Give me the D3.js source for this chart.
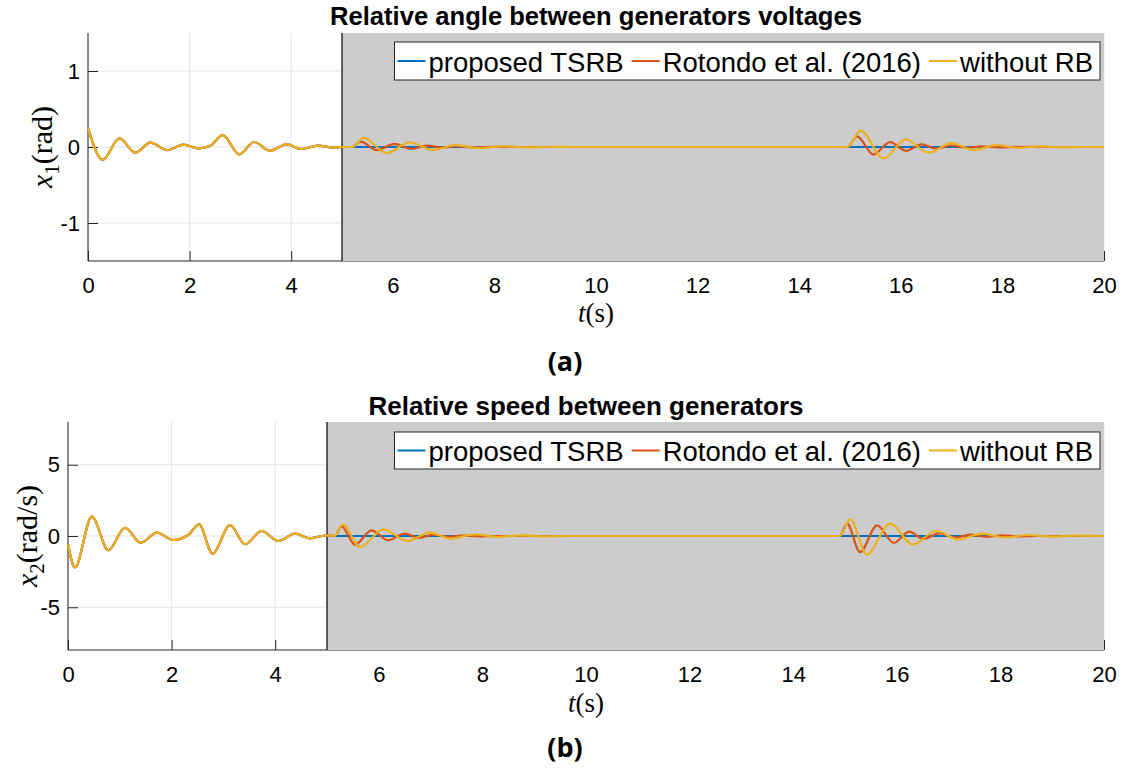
<!DOCTYPE html>
<html>
<head>
<meta charset="utf-8">
<script src="https://cdn.jsdelivr.net/npm/d3@7"></script>
<style>
  body { margin: 0; background: #fff; }
  svg { display: block; }
  text { font-family: "Liberation Sans", Arial, sans-serif; fill: #000; }
</style>
</head>
<body>
<div id="chart"></div>
<script>
// ---- data: [t (s), value] ----
var seriesNames = ["proposed TSRB", "Rotondo et al. (2016)", "without RB"];
var seriesColors = ["#0072BD", "#D95319", "#EDB120"];
var xTicks = [0, 2, 4, 6, 8, 10, 12, 14, 16, 18, 20];
var shadeStart = 5, shadeEnd = 20;

// x1, relative angle (rad): 0..5 s all three coincide
var x1Common = [[0, 0.25], [0.29, -0.17], [0.62, 0.115], [0.925, -0.075], [1.23, 0.057], [1.56, -0.04],
  [1.88, 0.03], [2.17, -0.017], [2.4, 0.013], [2.65, 0.155], [2.98, -0.097], [3.27, 0.066], [3.58, -0.049],
  [3.91, 0.035], [4.2, -0.026], [4.53, 0.018], [4.83, -0.009], [5.0, 0]];
var x1Proposed = [[5.05, 0], [20, 0]];
var x1Rotondo = [[5.2, 0], [5.37, 0.07], [5.68, -0.04], [6.04, 0.04], [6.37, -0.025], [6.68, 0.018], [6.97, -0.01],
  [7.25, 0.01], [7.6, -0.005], [8.0, 0.003], [8.5, 0], [14.95, 0], [15.14, 0.14], [15.46, -0.1], [15.79, 0.065],
  [16.1, -0.05], [16.41, 0.035], [16.7, -0.02], [17.0, 0.02], [17.3, -0.01], [17.6, 0.008], [17.95, -0.005],
  [18.3, 0.003], [18.7, 0], [20, 0]];
var x1NoRB = [[5.2, 0], [5.43, 0.12], [5.88, -0.08], [6.33, 0.06], [6.8, -0.04], [7.22, 0.025], [7.72, -0.015],
  [8.18, 0.01], [8.65, -0.006], [9.1, 0.003], [9.6, 0], [14.95, 0], [15.21, 0.216], [15.66, -0.15], [16.1, 0.1],
  [16.54, -0.075], [17.0, 0.05], [17.43, -0.04], [17.89, 0.024], [18.3, -0.012], [18.75, 0.007], [19.2, -0.004],
  [19.6, 0], [20, 0]];
var x1YTicks = [-1, 0, 1];

// x2, relative speed (rad/s)
var x2Common = [[0, -0.58], [0.135, -2.2], [0.46, 1.36], [0.78, -1.0], [1.1, 0.58], [1.4, -0.47], [1.72, 0.23],
  [2.03, -0.28], [2.32, 0.07], [2.53, 0.82], [2.79, -1.24], [3.13, 0.77], [3.42, -0.58], [3.74, 0.35],
  [4.06, -0.35], [4.38, 0.16], [4.67, -0.16], [5.0, 0.05]];
var x2Proposed = [[5.1, 0], [20, 0]];
var x2Rotondo = [[5.15, 0], [5.28, 0.68], [5.54, -0.61], [5.86, 0.4], [6.18, -0.3], [6.5, 0.17], [6.78, -0.14],
  [7.06, 0.1], [7.35, -0.06], [7.65, 0.04], [7.95, -0.02], [8.3, 0], [14.9, 0], [15.04, 0.87], [15.29, -1.13],
  [15.62, 0.75], [15.94, -0.47], [16.24, 0.31], [16.52, -0.21], [16.83, 0.2], [17.12, -0.12], [17.42, 0.1],
  [17.72, -0.06], [18.02, 0.04], [18.35, -0.02], [18.7, 0], [20, 0]];
var x2NoRB = [[5.15, 0], [5.3, 0.82], [5.64, -0.77], [6.09, 0.47], [6.55, -0.35], [6.99, 0.24], [7.38, -0.18],
  [7.86, 0.12], [8.3, -0.07], [8.75, 0.04], [9.2, -0.02], [9.7, 0], [14.9, 0], [15.1, 1.18], [15.42, -1.29],
  [15.87, 0.87], [16.31, -0.6], [16.76, 0.35], [17.19, -0.25], [17.64, 0.17], [18.08, -0.1], [18.53, 0.07],
  [19.0, -0.04], [19.45, 0.02], [20, 0]];
var x2YTicks = [-5, 0, 5];

var svg = d3.select("#chart").append("svg")
  .attr("width", 1128)
  .attr("height", 774);

function panel(o) {
  var g = svg.append("g");
  var x = d3.scaleLinear().domain([0, 20]).range([o.left, o.right]);
  var y = d3.scaleLinear().domain(o.yDomain).range([o.bottom, o.top]);

  // grid
  g.selectAll(".gx").data(xTicks).enter().append("line")
    .attr("x1", d => x(d)).attr("x2", d => x(d))
    .attr("y1", o.top).attr("y2", o.bottom)
    .attr("stroke", "#e3e3e3").attr("stroke-width", 1);
  g.selectAll(".gy").data(o.yTicks).enter().append("line")
    .attr("x1", o.left).attr("x2", o.right)
    .attr("y1", d => y(d)).attr("y2", d => y(d))
    .attr("stroke", "#e3e3e3").attr("stroke-width", 1);

  // axes (ticks inward, below the shading like MATLAB's bottom layer)
  var xAxis = d3.axisBottom(x).tickValues(xTicks).tickSize(-10).tickPadding(16).tickFormat(d3.format("d"));
  var yAxis = d3.axisLeft(y).tickValues(o.yTicks).tickSize(-10).tickPadding(8).tickFormat(d => d < 0 ? "-" + (-d) : d);
  var gx = g.append("g").attr("transform", "translate(0," + o.bottom + ")").call(xAxis);
  var gy = g.append("g").attr("transform", "translate(" + o.left + ",0)").call(yAxis);
  [gx, gy].forEach(function (a) {
    a.select(".domain").attr("stroke", "#262626");
    a.selectAll(".tick line").attr("stroke", "#262626");
    a.selectAll(".tick text").style("font-size", "22px").attr("fill", "#262626")
      .style("font-family", '"Liberation Sans", Arial, sans-serif');
  });
  gx.select(".domain").attr("d", "M" + o.left + ",0H" + o.right);
  gy.select(".domain").attr("d", "M0," + o.top + "V" + o.bottom);

  // shaded region
  g.append("rect")
    .attr("x", x(shadeStart)).attr("y", o.top)
    .attr("width", x(shadeEnd) - x(shadeStart)).attr("height", o.bottom - o.top)
    .attr("fill", "#cccccc");
  g.append("line")
    .attr("x1", x(shadeStart)).attr("x2", x(shadeStart))
    .attr("y1", o.top).attr("y2", o.bottom)
    .attr("stroke", "#000").attr("stroke-width", 1.2);

  // curves
  var line = d3.line().x(d => x(d[0])).y(d => y(d[1])).curve(d3.curveMonotoneX);
  o.series.forEach(function (s, i) {
    g.append("path")
      .attr("d", line(s))
      .attr("fill", "none")
      .attr("stroke", seriesColors[i])
      .attr("stroke-width", 2.2);
  });

  // legend
  var lg = g.append("g");
  var box = lg.append("rect").attr("fill", "#fff").attr("stroke", "#262626").attr("stroke-width", 1);
  var cx = 0, cy = (o.legendTop + o.legendBottom) / 2 + 1;
  var items = lg.append("g");
  seriesNames.forEach(function (name, i) {
    items.append("line")
      .attr("x1", cx + 3).attr("x2", cx + 31)
      .attr("y1", cy - 1).attr("y2", cy - 1)
      .attr("stroke", seriesColors[i]).attr("stroke-width", 2);
    var t = items.append("text")
      .attr("x", cx + 34).attr("y", cy)
      .attr("dominant-baseline", "central")
      .style("font-size", "27.5px")
      .text(name);
    cx += 34 + t.node().getComputedTextLength() + 5;
  });
  var bw = cx + 2;
  var bx = o.legendRight - bw;
  items.attr("transform", "translate(" + bx + ",0)");
  box.attr("x", bx).attr("y", o.legendTop).attr("width", bw).attr("height", o.legendBottom - o.legendTop);

  // title
  g.append("text")
    .attr("x", (o.left + o.right) / 2).attr("y", o.titleY)
    .attr("text-anchor", "middle")
    .style("font-size", o.titleSize).style("font-weight", "bold")
    .text(o.title);

  // y label
  var yl = g.append("text")
    .attr("transform", "translate(" + o.ylabelX + "," + y(0) + ") rotate(-90)")
    .attr("text-anchor", "middle")
    .style("font-family", '"Liberation Serif", "DejaVu Serif", serif')
    .style("font-size", "30px");
  yl.append("tspan").style("font-style", "italic").text("x");
  yl.append("tspan").attr("dy", 7).style("font-size", "21px").text(o.sub);
  yl.append("tspan").attr("dy", -7).text(o.unit);

  // x label
  var xl = g.append("text")
    .attr("x", (o.left + o.right) / 2).attr("y", o.xlabelY)
    .attr("text-anchor", "middle")
    .style("font-family", '"Liberation Serif", "DejaVu Serif", serif')
    .style("font-size", "27px");
  xl.append("tspan").style("font-style", "italic").text("t");
  xl.append("tspan").text("(s)");

  // caption
  g.append("text")
    .attr("x", 565).attr("y", o.captionY)
    .attr("text-anchor", "middle")
    .style("font-family", '"Open Sans", "DejaVu Sans", sans-serif')
    .style("font-weight", "bold")
    .style("font-size", "27px")
    .text(o.caption);
}

panel({
  left: 88, right: 1104, top: 33, bottom: 261,
  yDomain: [-1.5, 1.5], yTicks: x1YTicks,
  series: [x1Common.concat(x1Proposed), x1Common.concat(x1Rotondo), x1Common.concat(x1NoRB)],
  legendTop: 42, legendBottom: 80, legendRight: 1100,
  title: "Relative angle between generators voltages", titleY: 25, titleSize: "25.6px",
  sub: "1", unit: "(rad)", ylabelX: 52,
  xlabelY: 322, captionY: 371, caption: "(a)"
});

panel({
  left: 68, right: 1104, top: 422, bottom: 650,
  yDomain: [-8, 8], yTicks: x2YTicks,
  series: [x2Common.concat(x2Proposed), x2Common.concat(x2Rotondo), x2Common.concat(x2NoRB)],
  legendTop: 432, legendBottom: 469, legendRight: 1100,
  title: "Relative speed between generators", titleY: 415, titleSize: "26px",
  sub: "2", unit: "(rad/s)", ylabelX: 37,
  xlabelY: 712, captionY: 757, caption: "(b)"
});
</script>
</body>
</html>
